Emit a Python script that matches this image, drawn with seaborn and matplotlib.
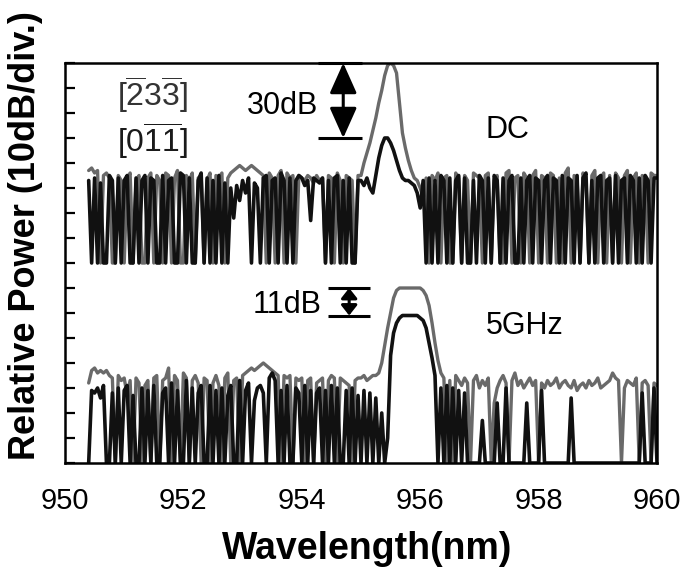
import numpy as np
import pandas as pd
import matplotlib
matplotlib.use("Agg")
import matplotlib.pyplot as plt
import seaborn as sns

# ---------------- data (relative power in dB above each trace's noise floor) -------------
WL_START = 950.40          # first sample wavelength (nm)
WL_STEP = 0.05             # sampling step of the spectra (nm)
DC_OFFSET_DB = 80          # DC spectra are displayed 8 divisions higher

# DC, [-2 3 -3] polarisation (grey trace)
DC_233 = [
    37, 38, 36, 37, 0, 35, 36, 34, 0, 0, 35, 33, 0, 34, 36, 0, 33, 35, 0, 0,
    34, 36, 0, 35, 33, 0, 36, 35, 0, 34, 37, 0, 0, 35, 33, 36, 0, 34, 35, 0,
    33, 36, 0, 35, 34, 36, 0, 34, 36, 37, 38, 39, 38, 37, 38, 39, 38, 37, 36, 35,
    0, 36, 34, 0, 35, 37, 0, 36, 34, 35, 0, 35, 34, 33, 35, 34, 32, 35, 33, 34,
    0, 35, 34, 0, 36, 33, 0, 35, 34, 33, 0, 35,
    35, 40, 44, 48, 53, 58, 64, 69, 75, 79, 80, 79, 76, 64, 52, 46, 41, 37, 34, 33, 30,
    26, 34, 0, 35, 33, 36, 0, 34, 35, 0, 0, 36, 34, 0, 35, 33, 0, 36, 35, 34,
    0, 35, 36, 0, 33, 35, 0, 0, 36, 37, 0, 34, 35, 0, 36, 34, 0, 35, 37, 0,
    35, 34, 0, 36, 35, 0, 34, 0, 36, 38, 0, 35, 34, 0, 36, 33, 0, 35, 37, 0,
    34, 36, 0, 35, 0, 36, 34, 0, 35, 37, 0, 34, 36, 0, 35, 34, 0, 36, 35, 35,
]

# DC, [0 -1 -1] polarisation (black trace)
DC_011 = [
    33, 0, 34, 0, 32, 0, 0, 35, 33, 0, 34, 0, 33, 35, 0, 0, 34, 0, 33, 35,
    0, 34, 33, 0, 0, 35, 0, 33, 34, 0, 0, 36, 35, 0, 34, 0, 0, 33, 36, 0,
    34, 0, 33, 0, 35, 0, 32, 0, 30, 18, 31, 25, 33, 28, 34, 0, 32, 30, 0, 34,
    35, 0, 33, 34, 0, 36, 33, 0, 34, 0, 33, 35, 34, 31, 33, 17, 34, 33, 32, 34,
    0, 33, 0, 34, 35, 0, 33, 0, 34, 0, 0, 33,
    33, 31, 34, 30, 28, 35, 42, 47, 50, 50, 48, 45, 41, 37, 34, 33, 33, 32, 31, 28, 22,
    33, 0, 34, 0, 33, 0, 35, 33, 0, 34, 0, 33, 35, 0, 34, 0, 0, 33, 0, 35,
    33, 0, 34, 0, 35, 33, 0, 34, 0, 33, 35, 0, 0, 34, 0, 33, 35, 0, 34, 33,
    0, 33, 35, 0, 34, 33, 0, 35, 0, 34, 33, 0, 35, 0, 34, 36, 0, 33, 0, 34,
    35, 0, 33, 34, 0, 35, 0, 33, 34, 0, 35, 33, 0, 34, 0, 35, 33, 0, 34, 34,
]

# 5 GHz modulation, [-2 3 -3] polarisation (grey trace)
GHZ5_233 = [
    32, 37, 38, 36, 37, 36, 37, 35, 34, 0, 35, 33, 34, 27, 33, 0, 34, 32, 0, 31,
    33, 0, 34, 35, 0, 33, 34, 38, 0, 35, 33, 0, 36, 34, 0, 33, 35, 32, 0, 34,
    33, 0, 32, 35, 31, 0, 34, 36, 0, 33, 34, 0, 35, 36, 37, 38, 37, 38, 39, 40,
    39, 38, 37, 36, 35, 0, 35, 34, 35, 0, 34, 33, 34, 0, 33, 34, 0, 32, 33, 34,
    0, 33, 35, 34, 0, 34, 33, 32, 31, 0, 33, 34,
    34, 35, 33, 34, 35, 35, 36, 40, 47, 54, 60, 66, 69, 70, 70, 70, 70, 70, 70, 70,
    70, 69, 67, 63, 56, 48, 41, 36,
    34, 0, 33, 0, 35, 33, 31, 34, 32, 0, 33, 35, 30, 33, 31, 34, 0, 24, 30, 33,
    35, 32, 0, 33, 36, 31, 33, 30, 32, 34, 31, 33, 0, 32, 30, 33, 31, 32, 34, 30,
    32, 33, 31, 30, 33, 29, 31, 32, 30, 33, 31, 32, 34, 30, 31, 32, 33, 36, 34, 33,
    0, 30, 33, 32, 31, 34, 0, 32, 33, 31, 0, 32, 31,
]

# 5 GHz modulation, [0 -1 -1] polarisation (black trace)
GHZ5_011 = [
    0, 29, 28, 30, 26, 31, 0, 0, 28, 0, 30, 0, 29, 31, 0, 27, 0, 0, 30, 0,
    29, 0, 31, 0, 0, 28, 30, 0, 32, 0, 29, 0, 0, 33, 0, 30, 0, 28, 31, 0,
    0, 31, 0, 29, 0, 30, 0, 27, 31, 0, 0, 33, 0, 29, 32, 0, 25, 30, 31, 28,
    0, 34, 36, 33, 0, 29, 0, 31, 0, 0, 30, 28, 0, 31, 0, 29, 0, 28, 30, 0,
    29, 0, 31, 0, 30, 0, 0, 29, 0, 30, 0, 27,
    0, 29, 0, 28, 0, 26, 0, 20, 0, 10, 43, 52, 56, 58, 59, 59, 59, 59, 59, 59,
    58, 57, 54, 48, 42, 35, 0, 30,
    0, 31, 0, 30, 0, 29, 0, 28, 0, 0, 0, 0, 0, 17, 0, 0, 0, 0, 24, 0,
    0, 30, 0, 0, 0, 0, 0, 0, 24, 0, 0, 0, 0, 29, 0, 0, 0, 0, 0, 0,
    0, 0, 0, 26, 0, 0, 0, 0, 0, 0, 0, 0, 0, 0, 0, 0, 0, 0, 0, 0,
    0, 0, 0, 0, 0, 0, 0, 28, 0, 0, 0, 30, 0,
]

X_TICKS = [950, 952, 954, 956, 958, 960]
X_TICK_LABELS = ["950", "952", "954", "956", "958", "960"]
LABEL_233 = r"$[\overline{2}3\overline{3}]$"
LABEL_011 = r"$[0\overline{1}\overline{1}]$"

# ---------------- style -------------
sns.set_theme(style="white")
plt.rcParams["font.family"] = ["Liberation Sans", "DejaVu Sans"]
plt.rcParams["mathtext.fontset"] = "custom"
plt.rcParams["mathtext.rm"] = "Liberation Sans"
plt.rcParams["mathtext.it"] = "Liberation Sans:italic"
plt.rcParams["mathtext.bf"] = "Liberation Sans:bold"

GREY = "#6a6a6a"
BLACK = "#111111"


def wavelengths(vals):
    return WL_START + WL_STEP * np.arange(len(vals))


frames = []
for name, vals, off in [("DC_233", DC_233, DC_OFFSET_DB), ("DC_011", DC_011, DC_OFFSET_DB),
                        ("G5_233", GHZ5_233, 0), ("G5_011", GHZ5_011, 0)]:
    frames.append(pd.DataFrame({"wavelength": wavelengths(vals),
                                "power": np.asarray(vals, dtype=float) + off,
                                "trace": name}))
df = pd.concat(frames, ignore_index=True)

fig = plt.figure(figsize=(7.0, 5.7), dpi=100)
ax = fig.add_axes([65 / 700, 107 / 570, 592 / 700, 400 / 570])

styles = {"DC_233": (GREY, 2.4), "DC_011": (BLACK, 2.6),
          "G5_233": (GREY, 2.4), "G5_011": (BLACK, 2.6)}
for name in ["DC_233", "DC_011", "G5_233", "G5_011"]:
    col, lw = styles[name]
    sns.lineplot(data=df[df["trace"] == name], x="wavelength", y="power", ax=ax,
                 color=col, lw=lw, estimator=None, sort=False, legend=False)

ax.set_xlim(950, 960)
ax.set_ylim(0, 160)
ax.set_xticks(X_TICKS)
ax.set_xticklabels(X_TICK_LABELS)
ax.set_yticks(np.arange(0, 161, 10))
ax.set_yticklabels([])
ax.tick_params(axis="x", length=0, pad=17, labelsize=21, colors="black")
ax.tick_params(axis="y", direction="in", length=7, width=1.6, left=True, right=False,
               labelleft=False, color="black")
for sp in ax.spines.values():
    sp.set_color("black")
    sp.set_linewidth(1.8)

ax.set_xlabel("Wavelength(nm)", fontsize=27, fontweight="bold", color="black")
ax.xaxis.label.set_va("center")
ax.xaxis.set_label_coords(0.51, -0.215)
ax.set_ylabel("Relative Power (10dB/div.)", fontsize=26, fontweight="bold", color="black")
ax.yaxis.label.set_va("center")
ax.yaxis.set_label_coords(-0.066, 0.5675)

# ---------------- annotations -------------
dc_top = max(DC_233) + DC_OFFSET_DB
dc_low = max(DC_011) + DC_OFFSET_DB
ax.hlines([dc_top, dc_low], 954.27, 955.02, color="black", lw=2.2, clip_on=False)
ax.annotate("", xy=(954.70, dc_low), xytext=(954.70, dc_top),
            arrowprops=dict(arrowstyle="<|-|>,head_length=0.85,head_width=0.38",
                            mutation_scale=22, lw=2.2, color="black",
                            shrinkA=0, shrinkB=0))
ax.text(953.67, 142.8, "30dB", fontsize=22, ha="center", va="center", color="black")

g_top = max(GHZ5_233)
g_low = max(GHZ5_011)
ax.hlines([g_top, g_low], 954.44, 955.15, color="black", lw=2.2)
ax.annotate("", xy=(954.80, g_low), xytext=(954.80, g_top),
            arrowprops=dict(arrowstyle="<|-|>,head_length=0.38,head_width=0.3",
                            mutation_scale=16, lw=2.2, color="black",
                            shrinkA=0, shrinkB=0))
ax.text(953.75, 63.2, "11dB", fontsize=22, ha="center", va="center", color="black")

ax.text(951.47, 147.5, LABEL_233, fontsize=23, ha="center", va="center", color="#333333")
ax.text(951.47, 129.0, LABEL_011, fontsize=23, ha="center", va="center", color="#1a1a1a")
ax.text(957.48, 133.2, "DC", fontsize=22, ha="center", va="center", color="black")
ax.text(957.77, 54.8, "5GHz", fontsize=22, ha="center", va="center", color="black")

fig.savefig("out.png", dpi=100, facecolor="white")
